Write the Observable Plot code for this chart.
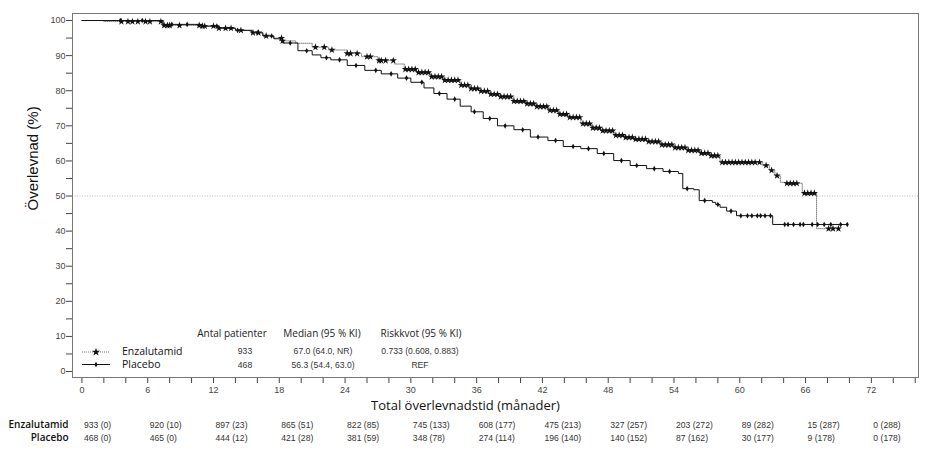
<!DOCTYPE html>
<html><head><meta charset="utf-8">
<script src="https://cdn.jsdelivr.net/npm/d3@7"></script>
<script src="https://cdn.jsdelivr.net/npm/@observablehq/plot@0.6"></script>
<style>body{margin:0;background:#fff}</style>
</head><body><div id="chart"></div>
<script>
// Kaplan-Meier step points [months, survival %]
const enzaSteps = [[0,100],[2.0,99.7],[7.4,98.6],[11.0,98.4],[12.5,97.8],[14.0,97.2],[15.5,96.5],[16.5,95.6],[17.5,95.0],[18.3,94.2],[19.5,93.5],[21.0,92.4],[22.5,91.6],[24.2,90.6],[25.5,89.7],[27.0,88.6],[28.5,87.6],[29.4,86.1],[30.5,85.2],[31.8,84.0],[33.0,83.0],[34.5,81.6],[35.5,80.6],[36.4,79.9],[37.3,79.0],[38.2,78.3],[39.4,77.0],[40.5,76.3],[41.5,75.5],[42.5,74.4],[43.5,73.3],[44.3,72.4],[45.5,70.6],[46.5,69.4],[47.3,68.6],[48.5,67.3],[49.5,66.7],[50.5,66.2],[51.5,65.5],[52.8,64.6],[54.0,63.8],[55.3,63.0],[56.4,62.2],[57.3,61.5],[58.2,59.6],[62.1,58.7],[62.7,57.3],[63.2,55.8],[63.7,53.9],[64.2,53.6],[65.7,50.8],[67.0,40.7],[69.1,40.7]];
const placeboSteps = [[0,100],[7.4,98.9],[11.0,98.4],[12.5,97.8],[14.0,97.2],[15.5,96.5],[16.5,95.6],[17.5,94.8],[18.3,93.6],[19.7,91.4],[21.0,90.2],[21.8,89.4],[22.7,88.8],[24.2,87.2],[25.8,85.8],[27.3,84.8],[28.8,83.6],[30.0,82.4],[31.2,80.8],[32.1,79.2],[33.3,77.6],[34.5,75.6],[35.5,74.0],[36.6,72.1],[37.9,70.0],[39.4,68.9],[40.9,66.8],[42.5,65.8],[43.9,64.1],[45.5,63.5],[47.0,62.1],[48.5,60.1],[50.0,58.7],[51.5,57.8],[53.0,57.0],[54.4,56.4],[54.8,52.1],[55.8,51.8],[56.3,48.7],[57.5,48.2],[57.8,47.6],[58.2,46.8],[58.8,45.7],[59.7,44.4],[63.0,41.9],[69.8,41.9]];

// Censoring times (months)
const enzaCensor = [3.6,4.2,4.6,5.1,5.8,6.2,7.2,7.5,7.8,8.0,8.9,10.7,11.0,11.2,12.0,12.5,13.1,13.6,14.5,15.6,16.1,16.8,18.2,18.3,21.3,22.1,22.8,24.2,24.5,25.1,26.0,26.3,27.1,27.3,27.7,28.4,
29.5,29.8,30.1,30.4,30.7,31.0,31.3,31.6,31.9,32.2,32.5,32.8,33.1,33.4,33.7,34.0,34.3,34.6,34.9,35.2,35.5,35.8,36.1,36.4,36.7,37.0,37.3,37.6,37.9,38.2,38.5,38.8,39.1,39.4,39.7,40.0,40.3,40.6,40.9,41.2,41.5,41.8,42.1,42.4,42.7,43.0,43.3,43.6,43.9,44.2,44.5,44.8,45.1,45.4,45.7,46.0,46.3,46.6,46.9,47.2,47.5,47.8,48.1,48.4,48.7,49.0,49.3,49.6,49.9,50.2,50.5,50.8,51.1,51.4,51.7,52.0,52.3,52.6,52.9,53.2,53.5,53.8,54.1,54.4,54.7,55.0,55.3,55.6,55.9,56.2,56.5,56.8,57.1,57.4,57.7,58.0,
58.4,58.7,59.0,59.3,59.6,59.9,60.2,60.5,60.8,61.1,61.4,61.8,62.4,62.9,63.4,64.3,64.6,64.9,65.2,65.9,66.2,66.5,66.8,68.1,68.5,69.0];
const placeboCensor = [3.5,5.5,8.2,9.6,12.3,14.2,16.0,17.3,19.0,20.5,22.3,23.5,25.0,26.8,28.2,29.6,31.0,32.6,34.0,35.8,37.2,38.6,40.2,41.6,43.2,44.8,46.2,47.6,49.2,50.6,52.2,53.6,55.2,56.8,58.0,59.2,60.1,60.7,61.1,61.6,61.9,62.3,62.8,64.1,64.4,64.9,65.5,65.8,66.6,67.1,67.7,68.3,69.2,69.8];

// Axis ticks
const xTickLabels = [0,6,12,18,24,30,36,42,48,54,60,66,72];
const xMinorTicks = [2,4,8,10,14,16,20,22,26,28,32,34,38,40,44,46,50,52,56,58,62,64,68,70,74,76];
const yTickLabels = [0,10,20,30,40,50,60,70,80,90,100];
const yMinorTicks = [5,15,25,35,45,55,65,75,85,95];

// Number at risk (censored)
const riskTimes = [0,6,12,18,24,30,36,42,48,54,60,66,72];
const enzaAtRisk = ["933 (0)","920 (10)","897 (23)","865 (51)","822 (85)","745 (133)","608 (177)","475 (213)","327 (257)","203 (272)","89 (282)","15 (287)","0 (288)"];
const placeboAtRisk = ["468 (0)","465 (0)","444 (12)","421 (28)","381 (59)","348 (78)","274 (114)","196 (140)","140 (152)","87 (162)","30 (177)","9 (178)","0 (178)"];

// Summary table
const groups = ["Enzalutamid","Placebo"];
const nPatients = ["933","468"];
const medians = ["67.0 (64.0, NR)","56.3 (54.4, 63.0)"];
const hazardRatios = ["0.733 (0.608, 0.883)","REF"];
const tableHeaders = ["Antal patienter","Median (95 % KI)","Riskkvot (95 % KI)"];

function survAt(steps, t) {
  let s = steps[0][1];
  for (const [tt, v] of steps) { if (tt <= t) s = v; else break; }
  return s;
}
const enzaPts = enzaSteps.map(([t,s]) => ({t, s}));
const placeboPts = placeboSteps.map(([t,s]) => ({t, s}));
const enzaCens = enzaCensor.map(t => ({t, s: survAt(enzaSteps, t)}));
const placeboCens = placeboCensor.map(t => ({t, s: survAt(placeboSteps, t)}));
const riskRows = riskTimes.map((t,i) => ({t, e: enzaAtRisk[i], p: placeboAtRisk[i]}));

const tickFont = "Liberation Sans, Arial, sans-serif";
const labFont = "'Open Sans', Lato, sans-serif";

const chart = Plot.plot({
  width: 930, height: 454,
  marginTop: 13, marginRight: 12, marginBottom: 77, marginLeft: 72,
  style: {fontFamily: tickFont, background: "#fff", overflow: "visible"},
  x: {domain: [-0.86, 76.3]},
  y: {domain: [-1.7, 102]},
  marks: [
    Plot.ruleY([50], {stroke: "#aaa", strokeWidth: 0.8, strokeDasharray: "1,1.5"}),
    Plot.axisY({ticks: yTickLabels, tickSize: 6, tickPadding: 1, fontSize: 9, fill: "#444", stroke: "#444", label: null}),
    Plot.axisY({ticks: yMinorTicks, tickSize: 6, text: null, stroke: "#444", label: null}),
    Plot.axisX({ticks: xTickLabels, tickSize: 6, tickPadding: 3, fontSize: 9, fill: "#444", stroke: "#444", label: null}),
    Plot.axisX({ticks: xMinorTicks, tickSize: 6, text: null, stroke: "#444", label: null}),
    Plot.frame({stroke: "#777", strokeWidth: 1}),
    Plot.line(enzaPts, {x: "t", y: "s", curve: "step-after", stroke: "#777", strokeWidth: 0.9, strokeDasharray: "1,1"}),
    Plot.line(placeboPts, {x: "t", y: "s", curve: "step-after", stroke: "#111", strokeWidth: 1}),
    Plot.dot(placeboCens, {x: "t", y: "s", symbol: "diamond", r: 1.7, fill: "#111", stroke: "none"}),
    Plot.dot(enzaCens, {x: "t", y: "s", symbol: "star", r: 2.3, fill: "#111", stroke: "none"}),
    // at-risk rows
    Plot.text(riskRows, {x: "t", text: "e", frameAnchor: "bottom", dy: 50, dx: 2, textAnchor: "start", fontSize: 8.6, fill: "#333"}),
    Plot.text(riskRows, {x: "t", text: "p", frameAnchor: "bottom", dy: 63, dx: 2, textAnchor: "start", fontSize: 8.6, fill: "#333"}),
    Plot.text([groups[0]], {text: d => d, frameAnchor: "bottom-left", dx: -4, dy: 50, textAnchor: "end", fontFamily: labFont, fontSize: 10, fontWeight: 600, fill: "#111"}),
    Plot.text([groups[1]], {text: d => d, frameAnchor: "bottom-left", dx: -4, dy: 63, textAnchor: "end", fontFamily: labFont, fontSize: 10, fontWeight: 600, fill: "#111"}),
    Plot.text(["Total överlevnadstid (månader)"], {text: d => d, frameAnchor: "bottom", dx: -30, dy: 32, fontFamily: labFont, fontSize: 13, fontWeight: 500, fill: "#111"}),
    Plot.text(["Överlevnad (%)"], {text: d => d, frameAnchor: "left", rotate: -90, dx: -39, dy: 15, fontFamily: tickFont, fontSize: 15, fill: "#111"})
  ]
});
document.getElementById("chart").appendChild(chart);

// Summary table and legend (decorations) in frame-relative pixel space
const svg = d3.select(chart);
const left = 72, bottom = 377;
const hg = svg.append("g").attr("font-family", labFont).attr("font-size", 10).attr("font-weight", 500).attr("fill", "#222").attr("text-anchor", "middle");
const headerX = [160, 250, 349];
tableHeaders.forEach((h, i) => hg.append("text").attr("x", left + headerX[i]).attr("y", bottom - 43).attr("dy", "0.32em").text(h));
const g = svg.append("g").attr("font-family", tickFont).attr("font-size", 8.6).attr("fill", "#333").attr("text-anchor", "middle");
const cols = [[nPatients, 173], [medians, 251], [hazardRatios, 348]];
cols.forEach(([arr, dx]) => arr.forEach((txt, i) => {
  g.append("text").attr("x", left + dx).attr("y", bottom - 25.5 + i * 13.5).attr("dy", "0.32em").text(txt);
}));
const lg = svg.append("g").attr("text-anchor", "start");
const sw = [{y: 352, dash: "1,1", stroke: "#777", sym: d3.symbolStar, r: 2.6}, {y: 364.5, dash: null, stroke: "#111", sym: d3.symbolDiamond, r: 1.7}];
sw.forEach((s, i) => {
  lg.append("line").attr("x1", 82).attr("x2", 110).attr("y1", s.y).attr("y2", s.y).attr("stroke", s.stroke).attr("stroke-width", 1).attr("stroke-dasharray", s.dash);
  lg.append("path").attr("d", d3.symbol(s.sym, Math.PI * s.r * s.r)()).attr("transform", `translate(96,${s.y})`).attr("fill", "#111");
  lg.append("text").attr("x", 122).attr("y", s.y).attr("dy", "0.32em").attr("font-family", labFont).attr("font-size", 10.5).attr("font-weight", 500).attr("fill", "#111").text(groups[i]);
});
</script>
</body></html>
